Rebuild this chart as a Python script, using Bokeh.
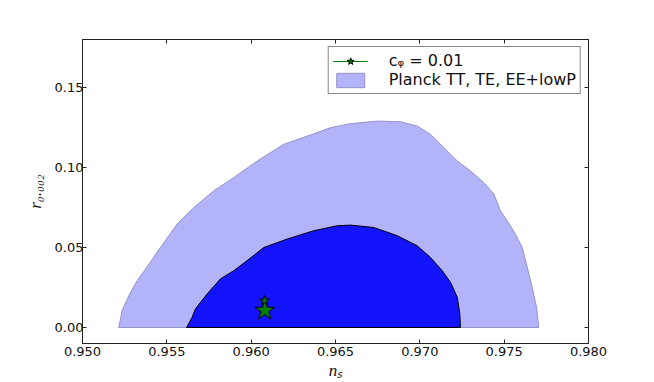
from bokeh.plotting import figure
from bokeh.models import (Range1d, FixedTicker, LinearAxis, Legend, LegendItem,
                          NumeralTickFormatter, ColumnDataSource)
from bokeh.embed import file_html
from bokeh.resources import INLINE

# ---------------- data ----------------
x_ticks = [0.950, 0.955, 0.960, 0.965, 0.970, 0.975, 0.980]
y_ticks = [0.00, 0.05, 0.10, 0.15]

# Planck TT,TE,EE+lowP 95% region (outer, light)
outer_ns = [0.95215, 0.95235, 0.95275, 0.95324, 0.95374, 0.95462, 0.95561, 0.95660,
            0.95778, 0.95897, 0.96036, 0.96193, 0.96391, 0.96470, 0.96589, 0.96747,
            0.96885, 0.96984, 0.97063, 0.97142, 0.97222, 0.97300, 0.97379, 0.97439,
            0.97478, 0.97518, 0.97567, 0.97607, 0.97637, 0.97666, 0.97692, 0.97705]
outer_r = [0.0, 0.0106, 0.0200, 0.0293, 0.0366, 0.0500, 0.0647, 0.0750,
           0.0854, 0.0937, 0.1041, 0.1145, 0.1218, 0.1249, 0.1274, 0.1290,
           0.1286, 0.1259, 0.1208, 0.1124, 0.1041, 0.0979, 0.0906, 0.0834,
           0.0729, 0.0667, 0.0584, 0.0500, 0.0376, 0.0251, 0.0127, 0.0]

# 68% region (inner, dark)
inner_ns = [0.95617, 0.95650, 0.95670, 0.95739, 0.95818, 0.95897, 0.95976, 0.96075,
            0.96214, 0.96371, 0.96510, 0.96589, 0.96727, 0.96866, 0.96984, 0.97063,
            0.97133, 0.97182, 0.97222, 0.97237, 0.97241]
inner_r = [0.0, 0.0064, 0.0117, 0.0210, 0.0304, 0.0355, 0.0418, 0.0500,
           0.0553, 0.0605, 0.0636, 0.0640, 0.0625, 0.0574, 0.0511, 0.0438,
           0.0355, 0.0282, 0.0189, 0.0085, 0.0]

# model c_phi = 0.01
star_ns = [0.96081, 0.96080]
star_r = [0.0106, 0.0168]

legend_labels = ["c\u1d69 = 0.01", "Planck TT, TE, EE+lowP"]
x_title = "n\u209b"
y_title = "r\u2080.\u2080\u2080\u2082"

# ---------------- styles ----------------
star_sizes = [21, 10]
LIGHT = "#b3b3fa"
DARK = "#1414fc"
TICK_FONT = "DejaVu Sans"
INK = "#111111"

p = figure(width=654, height=382, output_backend="svg", toolbar_location=None,
           x_range=Range1d(0.95, 0.98), y_range=Range1d(-0.01, 0.18),
           min_border_left=82, min_border_right=66, min_border_top=39,
           min_border_bottom=39, x_axis_location=None, y_axis_location=None)
p.background_fill_color = "white"
p.border_fill_color = "white"
p.outline_line_color = "#222222"
p.outline_line_width = 1
p.xgrid.visible = False
p.ygrid.visible = False


def style_axis(ax, ticks, fmt, show_labels, standoff=4):
    ax.ticker = FixedTicker(ticks=ticks)
    ax.formatter = NumeralTickFormatter(format=fmt)
    ax.major_tick_in = 4
    ax.major_tick_out = 0
    ax.minor_tick_line_color = None
    ax.axis_line_color = "#222222"
    ax.major_tick_line_color = "#222222"
    ax.major_label_text_font = TICK_FONT
    ax.major_label_text_font_size = "13px"
    ax.major_label_text_color = INK
    ax.major_label_standoff = standoff
    if not show_labels:
        ax.major_label_overrides = {t: "" for t in ticks}
        ax.major_label_standoff = 0


bottom = LinearAxis(axis_label=x_title)
style_axis(bottom, x_ticks, "0.000", True, standoff=3)
bottom.axis_label_text_font = "Liberation Serif"
bottom.axis_label_text_font_style = "italic"
bottom.axis_label_text_font_size = "17px"
bottom.axis_label_text_color = INK
bottom.axis_label_standoff = 2

left = LinearAxis(axis_label=y_title)
style_axis(left, y_ticks, "0.00", True, standoff=-1)
left.axis_label_text_font = "Liberation Serif"
left.axis_label_text_font_style = "italic"
left.axis_label_text_font_size = "17px"
left.axis_label_text_color = INK
left.axis_label_standoff = 7

top = LinearAxis()
style_axis(top, x_ticks, "0.000", False)
right = LinearAxis()
style_axis(right, y_ticks, "0.00", False)
p.add_layout(bottom, "below")
p.add_layout(left, "left")
p.add_layout(top, "above")
p.add_layout(right, "right")

outer = p.patch(outer_ns, outer_r, fill_color=LIGHT, line_color="#9494c8", line_width=1)
p.patch(inner_ns, inner_r, fill_color=DARK, line_color="black", line_width=1)

src = ColumnDataSource(dict(x=star_ns, y=star_r, s=star_sizes))
sline = p.line("x", "y", source=src, line_color="green", line_width=1)
sstar = p.scatter("x", "y", source=src, marker="star", size="s",
                  fill_color="green", line_color="black", line_width=1)

legend = Legend(items=[
    LegendItem(label=legend_labels[0], renderers=[sline, sstar], index=0),
    LegendItem(label=legend_labels[1], renderers=[outer]),
], location="top_right")
legend.margin = 7
legend.padding = 4
legend.spacing = 0
legend.glyph_width = 35
legend.glyph_height = 18
legend.label_standoff = 21
legend.label_text_font = TICK_FONT
legend.label_text_font_size = "16px"
legend.label_text_color = INK
legend.border_line_color = INK
legend.border_line_width = 1
legend.background_fill_color = "white"
legend.background_fill_alpha = 1
p.add_layout(legend)

open("out.html", "w").write(file_html(p, INLINE))
